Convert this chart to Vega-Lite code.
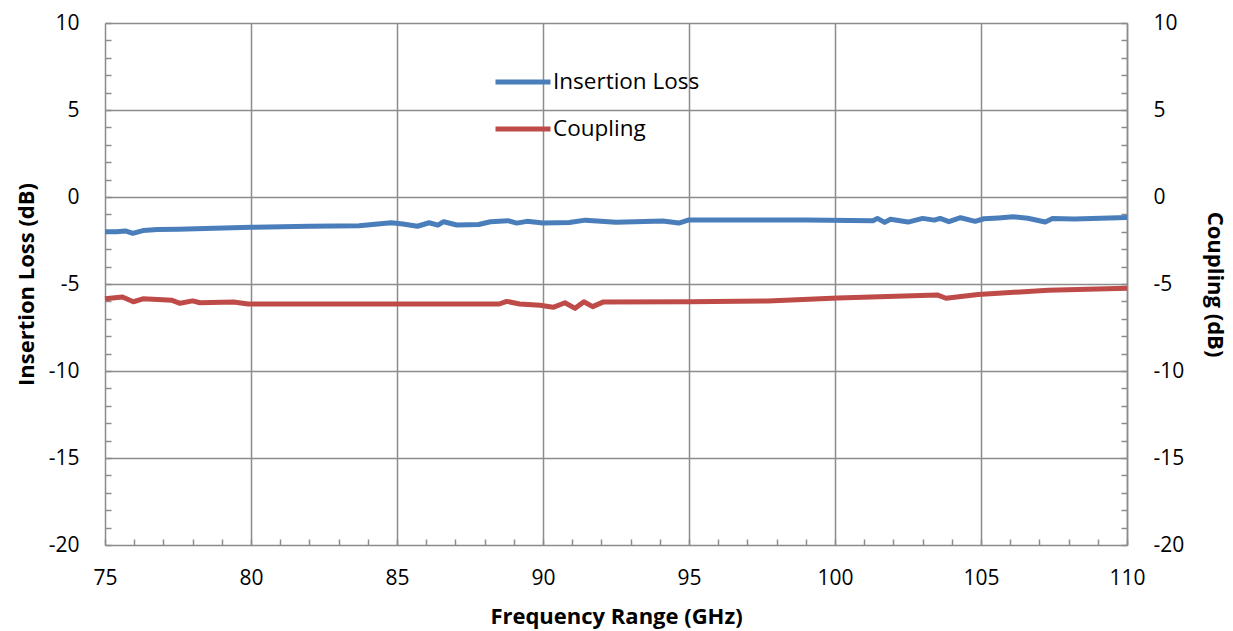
{
  "$schema": "https://vega.github.io/schema/vega-lite/v6.json",
  "width": 1022,
  "height": 522,
  "autosize": {"type": "none"},
  "padding": {"left": 105, "top": 23, "right": 106, "bottom": 86},
  "background": "white",
  "config": {
    "font": "Open Sans",
    "view": {"stroke": null},
    "axis": {
      "labelFont": "Open Sans",
      "labelFontSize": 21,
      "labelColor": "#000000",
      "titleFont": "Open Sans",
      "titleFontSize": 22,
      "titleFontWeight": "bold",
      "titleColor": "#000000",
      "domainColor": "#8c8c8c",
      "domainWidth": 1.5,
      "tickColor": "#8c8c8c",
      "tickWidth": 1.5,
      "tickSize": -6,
      "tickCount": 100,
      "labelOverlap": false,
      "labelFlush": false,
      "labelBound": false,
      "gridWidth": 1.5
    }
  },
  "data": {
    "values": [
      {"f": 75.0, "series": "Insertion Loss", "db": -2.0},
      {"f": 75.4, "series": "Insertion Loss", "db": -2.0},
      {"f": 75.7, "series": "Insertion Loss", "db": -1.95},
      {"f": 75.95, "series": "Insertion Loss", "db": -2.09},
      {"f": 76.3, "series": "Insertion Loss", "db": -1.93},
      {"f": 76.8, "series": "Insertion Loss", "db": -1.87},
      {"f": 77.5, "series": "Insertion Loss", "db": -1.85},
      {"f": 80.0, "series": "Insertion Loss", "db": -1.74},
      {"f": 82.0, "series": "Insertion Loss", "db": -1.68},
      {"f": 83.7, "series": "Insertion Loss", "db": -1.65},
      {"f": 84.8, "series": "Insertion Loss", "db": -1.48},
      {"f": 85.2, "series": "Insertion Loss", "db": -1.55},
      {"f": 85.7, "series": "Insertion Loss", "db": -1.68},
      {"f": 86.1, "series": "Insertion Loss", "db": -1.48},
      {"f": 86.4, "series": "Insertion Loss", "db": -1.62},
      {"f": 86.6, "series": "Insertion Loss", "db": -1.42},
      {"f": 87.05, "series": "Insertion Loss", "db": -1.61},
      {"f": 87.8, "series": "Insertion Loss", "db": -1.58},
      {"f": 88.2, "series": "Insertion Loss", "db": -1.42},
      {"f": 88.8, "series": "Insertion Loss", "db": -1.36},
      {"f": 89.1, "series": "Insertion Loss", "db": -1.5},
      {"f": 89.45, "series": "Insertion Loss", "db": -1.4},
      {"f": 90.0, "series": "Insertion Loss", "db": -1.5},
      {"f": 90.9, "series": "Insertion Loss", "db": -1.47},
      {"f": 91.45, "series": "Insertion Loss", "db": -1.33},
      {"f": 92.5, "series": "Insertion Loss", "db": -1.45},
      {"f": 94.1, "series": "Insertion Loss", "db": -1.38},
      {"f": 94.65, "series": "Insertion Loss", "db": -1.5},
      {"f": 95.0, "series": "Insertion Loss", "db": -1.32},
      {"f": 99.0, "series": "Insertion Loss", "db": -1.32},
      {"f": 101.3, "series": "Insertion Loss", "db": -1.36},
      {"f": 101.45, "series": "Insertion Loss", "db": -1.23},
      {"f": 101.7, "series": "Insertion Loss", "db": -1.46},
      {"f": 101.9, "series": "Insertion Loss", "db": -1.28},
      {"f": 102.5, "series": "Insertion Loss", "db": -1.44},
      {"f": 103.0, "series": "Insertion Loss", "db": -1.23},
      {"f": 103.4, "series": "Insertion Loss", "db": -1.33},
      {"f": 103.6, "series": "Insertion Loss", "db": -1.23},
      {"f": 103.9, "series": "Insertion Loss", "db": -1.42},
      {"f": 104.3, "series": "Insertion Loss", "db": -1.19},
      {"f": 104.8, "series": "Insertion Loss", "db": -1.4},
      {"f": 105.1, "series": "Insertion Loss", "db": -1.25},
      {"f": 105.6, "series": "Insertion Loss", "db": -1.2},
      {"f": 106.1, "series": "Insertion Loss", "db": -1.14},
      {"f": 106.6, "series": "Insertion Loss", "db": -1.22},
      {"f": 107.2, "series": "Insertion Loss", "db": -1.44},
      {"f": 107.45, "series": "Insertion Loss", "db": -1.24},
      {"f": 108.2, "series": "Insertion Loss", "db": -1.26},
      {"f": 110.0, "series": "Insertion Loss", "db": -1.18},
      {"f": 75.0, "series": "Coupling", "db": -5.85},
      {"f": 75.6, "series": "Coupling", "db": -5.75},
      {"f": 75.97, "series": "Coupling", "db": -6.02},
      {"f": 76.3, "series": "Coupling", "db": -5.85},
      {"f": 77.3, "series": "Coupling", "db": -5.94},
      {"f": 77.57, "series": "Coupling", "db": -6.11},
      {"f": 78.0, "series": "Coupling", "db": -5.97},
      {"f": 78.25, "series": "Coupling", "db": -6.08},
      {"f": 79.4, "series": "Coupling", "db": -6.03},
      {"f": 79.9, "series": "Coupling", "db": -6.15},
      {"f": 88.5, "series": "Coupling", "db": -6.15},
      {"f": 88.76, "series": "Coupling", "db": -6.0},
      {"f": 89.2, "series": "Coupling", "db": -6.15},
      {"f": 89.9, "series": "Coupling", "db": -6.22},
      {"f": 90.35, "series": "Coupling", "db": -6.34},
      {"f": 90.75, "series": "Coupling", "db": -6.08},
      {"f": 91.1, "series": "Coupling", "db": -6.4},
      {"f": 91.4, "series": "Coupling", "db": -6.02},
      {"f": 91.7, "series": "Coupling", "db": -6.3},
      {"f": 92.05, "series": "Coupling", "db": -6.04},
      {"f": 95.0, "series": "Coupling", "db": -6.02},
      {"f": 97.7, "series": "Coupling", "db": -5.97},
      {"f": 100.1, "series": "Coupling", "db": -5.8},
      {"f": 103.5, "series": "Coupling", "db": -5.63},
      {"f": 103.8, "series": "Coupling", "db": -5.82},
      {"f": 104.9, "series": "Coupling", "db": -5.6},
      {"f": 107.3, "series": "Coupling", "db": -5.36},
      {"f": 110.0, "series": "Coupling", "db": -5.25}
    ]
  },
  "layer": [
    {
      "transform": [{"filter": "datum.series === 'Insertion Loss'"}],
      "mark": {"type": "line", "strokeWidth": 5, "strokeJoin": "round"},
      "encoding": {
        "x": {
          "field": "f",
          "type": "quantitative",
          "scale": {"domain": [75, 110], "nice": false, "zero": false},
          "axis": {
            "values": [75,76,77,78,79,80,81,82,83,84,85,86,87,88,89,90,91,92,93,94,95,96,97,98,99,100,101,102,103,104,105,106,107,108,109,110],
            "tickCount": 100,
            "labelExpr": "datum.value % 5 === 0 ? '' + datum.value : ''",
            "grid": true,
            "gridColor": {"condition": {"test": "datum.value % 5 === 0 && datum.value > 75", "value": "#8c8c8c"}, "value": "transparent"},
            "labelPadding": 28,
            "title": "Frequency Range (GHz)",
            "titlePadding": 18
          }
        },
        "y": {
          "field": "db",
          "type": "quantitative",
          "scale": {"domain": [-20, 10], "nice": false, "zero": false},
          "axis": {
            "orient": "left",
            "values": [-20,-19,-18,-17,-16,-15,-14,-13,-12,-11,-10,-9,-8,-7,-6,-5,-4,-3,-2,-1,0,1,2,3,4,5,6,7,8,9,10],
            "tickCount": 100,
            "labelExpr": "datum.value % 5 === 0 ? '' + datum.value : ''",
            "grid": true,
            "gridColor": {"condition": {"test": "datum.value % 5 === 0 && datum.value > -20", "value": "#8c8c8c"}, "value": "transparent"},
            "labelPadding": 32,
            "title": "Insertion Loss (dB)",
            "titlePadding": 10
          }
        },
        "color": {
          "field": "series",
          "type": "nominal",
          "scale": {"domain": ["Insertion Loss", "Coupling"], "range": ["#4a7ebb", "#be4b48"]},
          "legend": {
            "orient": "none",
            "legendX": 388,
            "legendY": 29,
            "title": null,
            "symbolType": "stroke",
            "symbolSize": 3025,
            "symbolStrokeWidth": 5,
            "labelFont": "Open Sans",
            "labelFontSize": 22.5,
            "labelColor": "#000000",
            "labelOffset": 0,
            "rowPadding": 5
          }
        }
      }
    },
    {
      "transform": [{"filter": "datum.series === 'Coupling'"}],
      "mark": {"type": "line", "strokeWidth": 5, "strokeJoin": "round"},
      "encoding": {
        "x": {"field": "f", "type": "quantitative"},
        "y": {
          "field": "db",
          "type": "quantitative",
          "scale": {"domain": [-20, 10], "nice": false, "zero": false},
          "axis": {
            "orient": "right",
            "values": [-20,-19,-18,-17,-16,-15,-14,-13,-12,-11,-10,-9,-8,-7,-6,-5,-4,-3,-2,-1,0,1,2,3,4,5,6,7,8,9,10],
            "tickCount": 100,
            "labelExpr": "datum.value % 5 === 0 ? '' + datum.value : ''",
            "grid": false,
            "labelPadding": 32,
            "title": "Coupling (dB)",
            "titlePadding": 19
          }
        },
        "color": {"field": "series", "type": "nominal"}
      }
    }
  ],
  "resolve": {"scale": {"y": "independent"}}
}
